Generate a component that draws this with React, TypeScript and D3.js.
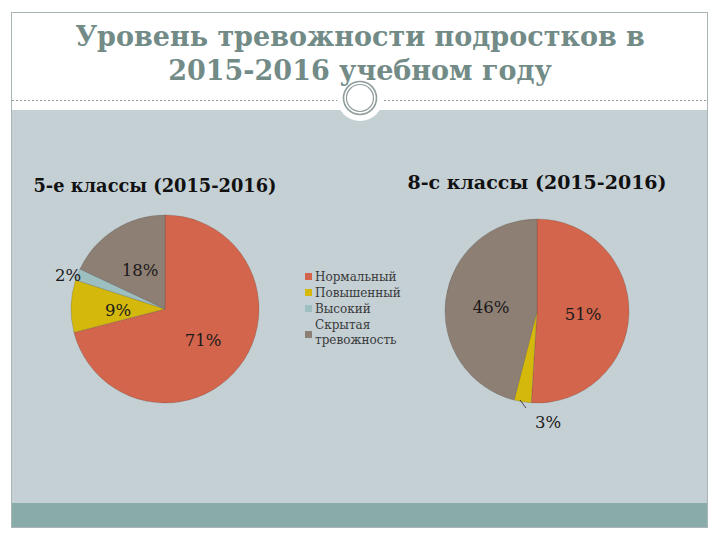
import React, { useEffect, useRef } from 'react';
import * as d3 from 'd3';

const categories = ['Нормальный', 'Повышенный', 'Высокий', 'Скрытая тревожность'];
const legendLines = [['Нормальный'], ['Повышенный'], ['Высокий'], ['Скрытая', 'тревожность']];
const colors = ['#d2654b', '#d4b90c', '#9dbfc0', '#8e7f74'];
const grade5Values = [71, 9, 2, 18];
const grade8Values = [51, 3, 0, 46];
const titleLines = ['Уровень тревожности подростков в', '2015-2016 учебном году'];
const pieTitles = ['5-е классы (2015-2016)', '8-с классы (2015-2016)'];

interface Slice {
  name: string;
  value: number;
  color: string;
}

export default function App() {
  const ref = useRef<SVGSVGElement>(null);

  useEffect(() => {
    const W = 720;
    const H = 540;
    const svg = d3.select(ref.current);
    svg.selectAll('*').remove();
    svg.attr('width', W).attr('height', H);

    // slide background
    svg.append('rect').attr('width', W).attr('height', H).attr('fill', '#ffffff');
    svg
      .append('rect')
      .attr('x', 11)
      .attr('y', 110)
      .attr('width', 697)
      .attr('height', 394)
      .attr('fill', '#c5d0d5');
    svg
      .append('rect')
      .attr('x', 11)
      .attr('y', 503)
      .attr('width', 697)
      .attr('height', 24)
      .attr('fill', '#89aba9');
    svg
      .append('rect')
      .attr('x', 11.5)
      .attr('y', 12.5)
      .attr('width', 696)
      .attr('height', 515)
      .attr('fill', 'none')
      .attr('stroke', '#a9b5b5')
      .attr('stroke-width', 1);

    svg
      .append('line')
      .attr('x1', 12)
      .attr('x2', 707)
      .attr('y1', 100.5)
      .attr('y2', 100.5)
      .attr('stroke', '#8d9a9a')
      .attr('stroke-width', 1)
      .attr('stroke-dasharray', '2,2');

    const ornament = svg.append('g').attr('transform', 'translate(360,98)');
    ornament.append('circle').attr('r', 23).attr('fill', '#ffffff');
    ornament.append('circle').attr('r', 16.5).attr('fill', 'none').attr('stroke', '#8e9c9b').attr('stroke-width', 1.6);
    ornament.append('circle').attr('r', 13.5).attr('fill', 'none').attr('stroke', '#8e9c9b').attr('stroke-width', 1.2);

    // title
    svg
      .append('g')
      .selectAll('text')
      .data(titleLines)
      .enter()
      .append('text')
      .attr('x', 360)
      .attr('y', (d, i) => 46 + i * 34)
      .attr('text-anchor', 'middle')
      .attr('font-family', 'DejaVu Serif, serif')
      .attr('font-weight', 'bold')
      .attr('font-size', 27)
      .attr('fill', '#728b87')
      .text((d) => d);

    const pie = d3
      .pie<Slice>()
      .sort(null)
      .value((d) => d.value);

    const drawPie = (
      values: number[],
      cx: number,
      cy: number,
      r: number,
      title: string,
      tx: number,
      ty: number,
      titleSize: number,
      labelPos: ([number, number] | null)[],
      leader: [number, number, number, number] | null
    ) => {
      const data: Slice[] = values.map((v, i) => ({ name: categories[i], value: v, color: colors[i] }));
      const arc = d3.arc<d3.PieArcDatum<Slice>>().innerRadius(0).outerRadius(r);
      const g = svg.append('g').attr('transform', `translate(${cx},${cy})`);
      g.selectAll('path')
        .data(pie(data).filter((d) => d.data.value > 0))
        .enter()
        .append('path')
        .attr('d', arc)
        .attr('fill', (d) => d.data.color)
        .attr('stroke', 'rgba(60,60,60,0.35)')
        .attr('stroke-width', 0.6);

      if (leader) {
        g.append('line')
          .attr('x1', leader[0])
          .attr('y1', leader[1])
          .attr('x2', leader[2])
          .attr('y2', leader[3])
          .attr('stroke', '#222')
          .attr('stroke-width', 0.8);
      }

      const labelArc = d3.arc<d3.PieArcDatum<Slice>>().innerRadius(r * 0.55).outerRadius(r * 0.55);
      g.selectAll('text.val')
        .data(pie(data))
        .enter()
        .filter((d) => d.data.value > 0)
        .append('text')
        .attr('class', 'val')
        .attr('transform', (d) => {
          const p = labelPos[d.index];
          const c = p ? p : labelArc.centroid(d);
          return `translate(${c[0]},${c[1]})`;
        })
        .attr('text-anchor', 'middle')
        .attr('dominant-baseline', 'central')
        .attr('font-family', 'DejaVu Serif, serif')
        .attr('font-size', 16.5)
        .attr('fill', '#1a1a1a')
        .text((d) => `${d.data.value}%`);

      svg
        .append('text')
        .attr('x', tx)
        .attr('y', ty)
        .attr('text-anchor', 'middle')
        .attr('font-family', 'DejaVu Serif, serif')
        .attr('font-weight', 'bold')
        .attr('font-size', titleSize)
        .attr('fill', '#111')
        .text(title);
    };

    drawPie(
      grade5Values,
      165,
      309,
      94,
      pieTitles[0],
      155,
      192,
      17.8,
      [
        [38, 31],
        [-47, 1],
        [-97, -34],
        [-25, -39],
      ],
      null
    );

    drawPie(
      grade8Values,
      537,
      311,
      92,
      pieTitles[1],
      537,
      189,
      19,
      [
        [46, 3],
        [11, 111],
        null,
        [-46, -4],
      ],
      [-17, 89, -11, 97]
    );

    // legend
    const legend = svg.append('g').attr('transform', 'translate(305,270)');
    const rowY = [7, 23, 39, 55];
    legendLines.forEach((lines, i) => {
      const sqY = lines.length > 1 ? rowY[i] + 10 : rowY[i];
      legend
        .append('rect')
        .attr('x', 0)
        .attr('y', sqY - 4)
        .attr('width', 7)
        .attr('height', 7)
        .attr('fill', colors[i]);
      lines.forEach((line, j) => {
        legend
          .append('text')
          .attr('x', 10)
          .attr('y', rowY[i] + j * 15)
          .attr('dominant-baseline', 'central')
          .attr('font-family', 'DejaVu Serif, serif')
          .attr('font-size', 12)
          .attr('fill', '#3a3a3a')
          .text(line);
      });
    });
  }, []);

  return <svg ref={ref} style={{ position: 'absolute', left: 0, top: 0 }} />;
}
